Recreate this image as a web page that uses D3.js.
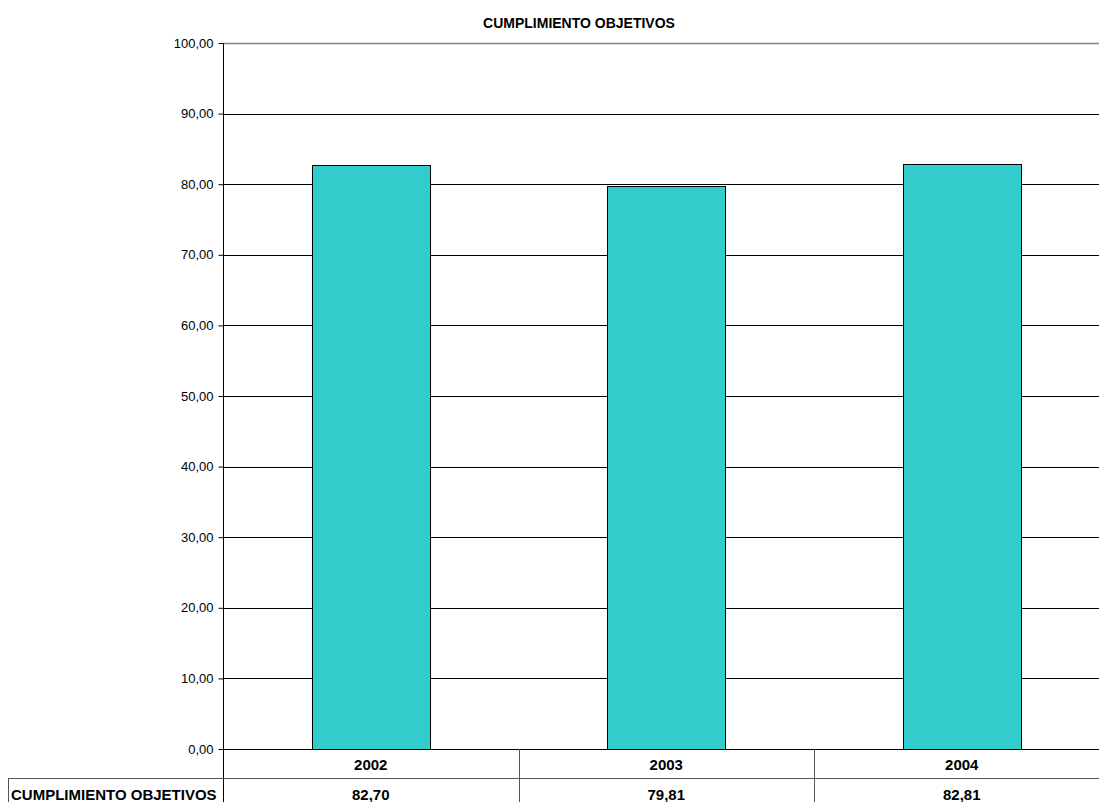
<!DOCTYPE html>
<html>
<head>
<meta charset="utf-8">
<script src="https://cdn.jsdelivr.net/npm/d3@7"></script>
<style>
  body { margin: 0; background: #fff; }
  svg { display: block; font-family: Arial, "Liberation Sans", sans-serif; }
</style>
</head>
<body>
<div id="chart"></div>
<script>
const years = ["2002", "2003", "2004"];
const values = [82.70, 79.81, 82.81];
const yTicks = [0, 10, 20, 30, 40, 50, 60, 70, 80, 90, 100];
const seriesName = "CUMPLIMIENTO OBJETIVOS";
const chartTitle = "CUMPLIMIENTO OBJETIVOS";

const W = 1099, H = 802;
const plot = { left: 223, top: 43, bottom: 749, band: 295.5 };
const fmt = v => v.toFixed(2).replace(".", ",");

const svg = d3.select("#chart").append("svg")
    .attr("width", W)
    .attr("height", H);

const x = d3.scaleBand()
    .domain(years)
    .range([plot.left, plot.left + plot.band * years.length])
    .padding(0);

const y = d3.scaleLinear()
    .domain([0, 100])
    .range([plot.bottom, plot.top]);

// title
svg.append("text")
    .attr("x", 579)
    .attr("y", 28)
    .attr("text-anchor", "middle")
    .attr("font-size", 14)
    .attr("font-weight", "bold")
    .text(chartTitle);

// gridlines
svg.append("g")
    .selectAll("line")
    .data(yTicks)
    .join("line")
    .attr("x1", plot.left)
    .attr("x2", W)
    .attr("y1", d => Math.round(y(d)) + 0.5)
    .attr("y2", d => Math.round(y(d)) + 0.5)
    .attr("stroke", d => d === 100 ? "#808080" : "#000")
    .attr("stroke-width", d => d === 100 ? 1.5 : 1);

// bars
const barW = x.bandwidth() * 0.4;
svg.append("g")
    .selectAll("rect")
    .data(years.map((yr, i) => ({ yr, v: values[i] })))
    .join("rect")
    .attr("x", d => Math.round(x(d.yr) + (x.bandwidth() - barW) / 2) + 0.5)
    .attr("y", d => Math.round(y(d.v)) + 0.5)
    .attr("width", Math.round(barW))
    .attr("height", d => Math.round(y(0)) - Math.round(y(d.v)))
    .attr("fill", "#33CCCC")
    .attr("stroke", "#000")
    .attr("stroke-width", 1);

// y axis
const yAxis = svg.append("g")
    .attr("transform", `translate(${plot.left + 0.5},0)`)
    .call(d3.axisLeft(y).tickValues(yTicks).tickSize(5).tickPadding(5).tickFormat(fmt));
yAxis.select(".domain").remove();
yAxis.selectAll("text").attr("font-size", 13).attr("font-family", "Arial, 'Liberation Sans', sans-serif").attr("fill", "#000");
yAxis.selectAll("line").attr("stroke", "#000");

svg.append("line")
    .attr("x1", plot.left + 0.5).attr("x2", plot.left + 0.5)
    .attr("y1", plot.top).attr("y2", H)
    .attr("stroke", "#000");

// data table
const rowSplit = 778;
svg.append("line")
    .attr("x1", 8).attr("x2", W)
    .attr("y1", rowSplit + 0.5).attr("y2", rowSplit + 0.5)
    .attr("stroke", "#555");
svg.append("line")
    .attr("x1", 8.5).attr("x2", 8.5)
    .attr("y1", rowSplit).attr("y2", H)
    .attr("stroke", "#555");
svg.append("g")
    .selectAll("line")
    .data(years.slice(1))
    .join("line")
    .attr("x1", d => Math.round(x(d)) + 0.5)
    .attr("x2", d => Math.round(x(d)) + 0.5)
    .attr("y1", plot.bottom)
    .attr("y2", H)
    .attr("stroke", "#555");

const cells = svg.append("g")
    .attr("font-size", 15)
    .attr("font-weight", "bold")
    .attr("text-anchor", "middle");
cells.selectAll("text.yr")
    .data(years)
    .join("text")
    .attr("class", "yr")
    .attr("x", d => x(d) + x.bandwidth() / 2)
    .attr("y", 770)
    .text(d => d);
cells.selectAll("text.val")
    .data(years.map((yr, i) => ({ yr, v: values[i] })))
    .join("text")
    .attr("class", "val")
    .attr("x", d => x(d.yr) + x.bandwidth() / 2)
    .attr("y", 800)
    .text(d => fmt(d.v));

svg.append("text")
    .attr("x", 11)
    .attr("y", 800)
    .attr("font-size", 15)
    .attr("font-weight", "bold")
    .text(seriesName);
</script>
</body>
</html>
